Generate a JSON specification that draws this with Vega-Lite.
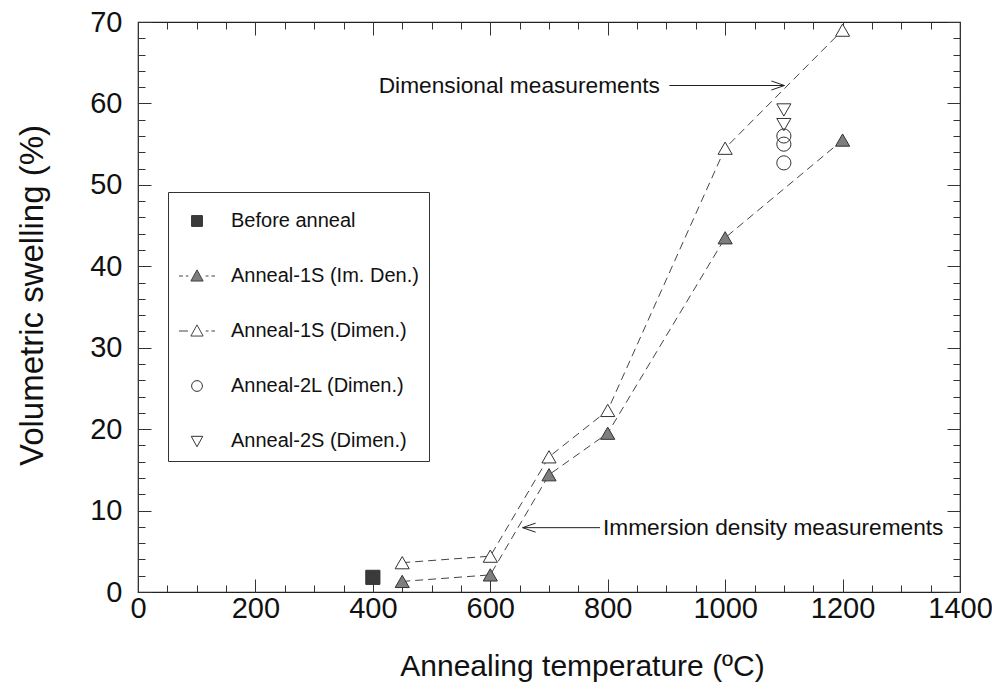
{
  "$schema": "https://vega.github.io/schema/vega-lite/v6.json",
  "width": 822,
  "height": 570,
  "autosize": {"type": "none"},
  "padding": {"left": 138, "top": 22, "right": 32, "bottom": 107},
  "background": "white",
  "config": {
    "view": {"stroke": "#222", "strokeWidth": 1.2},
    "font": "Liberation Sans",
    "axis": {"grid": false, "domain": false, "tickColor": "#333", "tickWidth": 1}
  },
  "datasets": {
    "pts": [
      {"series": "Before anneal", "temp": 400, "swelling": 1.8},
      {"series": "Anneal-1S (Im. Den.)", "temp": 450, "swelling": 1.3},
      {"series": "Anneal-1S (Im. Den.)", "temp": 600, "swelling": 2.1},
      {"series": "Anneal-1S (Im. Den.)", "temp": 700, "swelling": 14.4},
      {"series": "Anneal-1S (Im. Den.)", "temp": 800, "swelling": 19.5},
      {"series": "Anneal-1S (Im. Den.)", "temp": 1000, "swelling": 43.5},
      {"series": "Anneal-1S (Im. Den.)", "temp": 1200, "swelling": 55.5},
      {"series": "Anneal-1S (Dimen.)", "temp": 450, "swelling": 3.6},
      {"series": "Anneal-1S (Dimen.)", "temp": 600, "swelling": 4.4},
      {"series": "Anneal-1S (Dimen.)", "temp": 700, "swelling": 16.6},
      {"series": "Anneal-1S (Dimen.)", "temp": 800, "swelling": 22.3},
      {"series": "Anneal-1S (Dimen.)", "temp": 1000, "swelling": 54.5},
      {"series": "Anneal-1S (Dimen.)", "temp": 1200, "swelling": 69.0},
      {"series": "Anneal-2L (Dimen.)", "temp": 1100, "swelling": 56.0},
      {"series": "Anneal-2L (Dimen.)", "temp": 1100, "swelling": 55.0},
      {"series": "Anneal-2L (Dimen.)", "temp": 1100, "swelling": 52.7},
      {"series": "Anneal-2S (Dimen.)", "temp": 1100, "swelling": 59.2},
      {"series": "Anneal-2S (Dimen.)", "temp": 1100, "swelling": 57.4}
    ],
    "notes": [
      {"note": "Dimensional measurements", "temp": 410, "swelling": 62.2},
      {"note": "Immersion density measurements", "temp": 792, "swelling": 7.9}
    ],
    "arrows": [
      {"dir": "right", "from": 905, "to": 1101, "swelling": 62.2},
      {"dir": "left", "from": 787, "to": 655, "swelling": 7.9}
    ]
  },
  "resolve": {
    "axis": {"x": "independent", "y": "independent"},
    "scale": {"shape": "independent", "fill": "independent", "stroke": "independent"}
  },
  "layer": [
    {
      "data": {"name": "pts"},
      "transform": [{"filter": "datum.series === 'Anneal-1S (Im. Den.)' || datum.series === 'Anneal-1S (Dimen.)'"}],
      "mark": {"type": "line", "stroke": "#444", "strokeWidth": 1, "strokeDash": [8, 5]},
      "encoding": {
        "x": {
          "field": "temp", "type": "quantitative",
          "scale": {"domain": [0, 1400], "nice": false, "zero": false},
          "axis": {
            "orient": "bottom", "values": [0, 200, 400, 600, 800, 1000, 1200, 1400], "format": "d",
            "tickSize": -13, "labelPadding": 15, "labelFontSize": 29, "labelColor": "#111",
            "labelFlush": false, "labelOverlap": false,
            "title": "Annealing temperature (ºC)", "titleFontSize": 30, "titleFontWeight": "normal",
            "titleColor": "#111", "titlePadding": 28, "titleX": 444, "titleAnchor": "middle"
          }
        },
        "y": {
          "field": "swelling", "type": "quantitative",
          "scale": {"domain": [0, 70], "nice": false, "zero": false},
          "axis": {
            "orient": "left", "values": [0, 10, 20, 30, 40, 50, 60, 70], "format": "d",
            "tickSize": -13, "labelPadding": 29, "labelFontSize": 29, "labelColor": "#111",
            "labelFlush": false, "labelOverlap": false,
            "title": "Volumetric swelling (%)", "titleFontSize": 33, "titleFontWeight": "normal",
            "titleColor": "#111", "titlePadding": 40, "titleY": 273, "titleAnchor": "middle"
          }
        },
        "detail": {"field": "series"}
      }
    },
    {
      "data": {"name": "pts"},
      "mark": {"type": "point", "filled": true, "stroke": "#333", "strokeWidth": 1, "opacity": 1},
      "encoding": {
        "x": {
          "field": "temp", "type": "quantitative",
          "axis": {"orient": "bottom", "values": [0,50,100,150,200,250,300,350,400,450,500,550,600,650,700,750,800,850,900,950,1000,1050,1100,1150,1200,1250,1300,1350,1400], "tickSize": -7, "labels": false, "title": null}
        },
        "y": {
          "field": "swelling", "type": "quantitative",
          "axis": {"orient": "left", "values": [0,2,4,6,8,10,12,14,16,18,20,22,24,26,28,30,32,34,36,38,40,42,44,46,48,50,52,54,56,58,60,62,64,66,68,70], "tickSize": -7, "labels": false, "title": null}
        },
        "shape": {
          "field": "series", "type": "nominal",
          "scale": {
            "domain": ["Before anneal", "Anneal-1S (Im. Den.)", "Anneal-1S (Dimen.)", "Anneal-2L (Dimen.)", "Anneal-2S (Dimen.)"],
            "range": ["square", "triangle-up", "triangle-up", "circle", "triangle-down"]
          },
          "legend": null
        },
        "fill": {
          "field": "series", "type": "nominal",
          "scale": {
            "domain": ["Before anneal", "Anneal-1S (Im. Den.)", "Anneal-1S (Dimen.)", "Anneal-2L (Dimen.)", "Anneal-2S (Dimen.)"],
            "range": ["#3a3a3a", "#7e7e7e", "white", "transparent", "transparent"]
          },
          "legend": null
        },
        "size": {"value": 200}
      }
    },
    {
      "data": {"name": "notes"},
      "mark": {"type": "text", "align": "left", "baseline": "middle", "fontSize": 22.7, "color": "#111", "font": "Liberation Sans"},
      "encoding": {
        "x": {
          "field": "temp", "type": "quantitative",
          "axis": {"orient": "top", "values": [0, 200, 400, 600, 800, 1000, 1200, 1400], "tickSize": -13, "labels": false, "title": null}
        },
        "y": {
          "field": "swelling", "type": "quantitative",
          "axis": {"orient": "right", "values": [0, 10, 20, 30, 40, 50, 60, 70], "tickSize": -13, "labels": false, "title": null}
        },
        "text": {"field": "note"}
      }
    },
    {
      "data": {"name": "arrows"},
      "mark": {"type": "rule", "stroke": "#222", "strokeWidth": 1},
      "encoding": {
        "x": {
          "field": "from", "type": "quantitative",
          "axis": {"orient": "top", "values": [0,50,100,150,200,250,300,350,400,450,500,550,600,650,700,750,800,850,900,950,1000,1050,1100,1150,1200,1250,1300,1350,1400], "tickSize": -7, "labels": false, "title": null}
        },
        "x2": {"field": "to"},
        "y": {
          "field": "swelling", "type": "quantitative",
          "axis": {"orient": "right", "values": [0,2,4,6,8,10,12,14,16,18,20,22,24,26,28,30,32,34,36,38,40,42,44,46,48,50,52,54,56,58,60,62,64,66,68,70], "tickSize": -7, "labels": false, "title": null}
        }
      }
    },
    {
      "data": {"name": "arrows"},
      "mark": {"type": "point", "filled": false, "stroke": "#222", "strokeWidth": 1, "opacity": 1},
      "encoding": {
        "x": {"field": "to", "type": "quantitative", "axis": null},
        "y": {"field": "swelling", "type": "quantitative", "axis": null},
        "shape": {
          "field": "dir", "type": "nominal",
          "scale": {"domain": ["right", "left"], "range": ["M-1.3,-0.45L0,0L-1.3,0.45", "M1.3,-0.45L0,0L1.3,0.45"]},
          "legend": null
        },
        "size": {"value": 400}
      }
    },
    {
      "data": {"name": "pts"},
      "transform": [{"filter": "datum.temp < 0"}],
      "mark": {"type": "point", "filled": true, "strokeWidth": 1, "opacity": 1},
      "encoding": {
        "x": {"field": "temp", "type": "quantitative", "axis": null},
        "y": {"field": "swelling", "type": "quantitative", "axis": null},
        "fill": {
          "field": "series", "type": "nominal",
          "scale": {
            "domain": ["Before anneal", "Anneal-1S (Im. Den.)", "Anneal-1S (Dimen.)", "Anneal-2L (Dimen.)", "Anneal-2S (Dimen.)"],
            "range": ["#3a3a3a", "#7e7e7e", "transparent", "transparent", "transparent"]
          },
          "legend": {
            "orient": "none", "legendX": 30, "legendY": 170,
            "title": null, "padding": 10, "strokeColor": "#333", "fillColor": "white",
            "rowPadding": 26, "symbolSize": 1300, "labelOffset": 15,
            "labelFontSize": 20, "labelFont": "Liberation Sans", "labelColor": "#111", "labelLimit": 400,
            "symbolOpacity": 1, "symbolStrokeWidth": 1
          }
        },
        "stroke": {
          "field": "series", "type": "nominal",
          "scale": {
            "domain": ["Before anneal", "Anneal-1S (Im. Den.)", "Anneal-1S (Dimen.)", "Anneal-2L (Dimen.)", "Anneal-2S (Dimen.)"],
            "range": ["#333", "#444", "#444", "#333", "#333"]
          },
          "legend": {
            "orient": "none", "legendX": 30, "legendY": 170,
            "title": null, "padding": 10, "strokeColor": "#333", "fillColor": "white",
            "rowPadding": 26, "symbolSize": 1300, "labelOffset": 15,
            "labelFontSize": 20, "labelFont": "Liberation Sans", "labelColor": "#111", "labelLimit": 400,
            "symbolOpacity": 1, "symbolStrokeWidth": 1
          }
        },
        "shape": {
          "field": "series", "type": "nominal",
          "scale": {
            "domain": ["Before anneal", "Anneal-1S (Im. Den.)", "Anneal-1S (Dimen.)", "Anneal-2L (Dimen.)", "Anneal-2S (Dimen.)"],
            "range": [
              "M-0.3,-0.3H0.3V0.3H-0.3Z",
              "M-1,0H-0.78M-0.62,0H-0.48M0.48,0H0.64M0.8,0H1M0,-0.34L0.34,0.28L-0.34,0.28Z",
              "M-1,0H-0.5M0.48,0H0.64M0.8,0H1M0,-0.34L0.34,0.28L-0.34,0.28Z",
              "M0.3,0A0.3,0.3,0,1,1,-0.3,0A0.3,0.3,0,1,1,0.3,0Z",
              "M-0.32,-0.26L0.32,-0.26L0,0.32Z"
            ]
          },
          "legend": {
            "orient": "none", "legendX": 30, "legendY": 170,
            "title": null, "padding": 10, "strokeColor": "#333", "fillColor": "white",
            "rowPadding": 26, "symbolSize": 1300, "labelOffset": 15,
            "labelFontSize": 20, "labelFont": "Liberation Sans", "labelColor": "#111", "labelLimit": 400,
            "symbolOpacity": 1, "symbolStrokeWidth": 1
          }
        }
      }
    }
  ]
}
